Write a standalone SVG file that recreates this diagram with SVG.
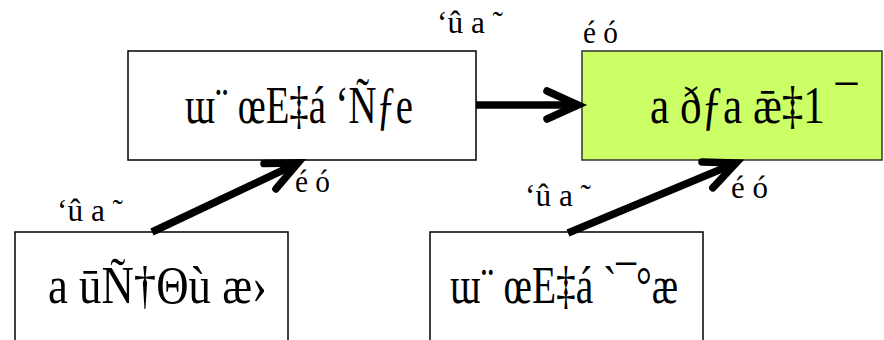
<svg xmlns="http://www.w3.org/2000/svg" width="884" height="340" viewBox="0 0 884 340">
<style>
.box{fill:#ffffff;stroke:#000000;stroke-width:1.5}
.hl{fill:#ccff66;stroke:#333333;stroke-width:1.5}
.nt{font-family:"Liberation Serif","DejaVu Serif",serif;font-size:52px;fill:#000000}
.lb{font-family:"Liberation Serif","DejaVu Serif",serif;font-size:32px;fill:#000000}
.cn{fill:none;stroke:#000000;stroke-width:7.5}
</style>
<defs>
<marker id="ah" markerUnits="userSpaceOnUse" markerWidth="60" markerHeight="60" viewBox="-40 -30 60 60" refX="0" refY="0" orient="auto" overflow="visible">
<path d="M-31,-14 L0,0 L-31,14" fill="none" stroke="#000000" stroke-width="7.5" stroke-linecap="round" stroke-linejoin="miter"/>
</marker>
</defs>
<g id="nodeA">
<rect class="box" x="128" y="51" width="348" height="109"/>
<text class="nt" x="185" y="123" textLength="228" lengthAdjust="spacingAndGlyphs">ɯ¨ œE‡á ‘Ñƒe</text>
</g>
<g id="nodeB">
<rect class="hl" x="582" y="51" width="300" height="109"/>
<text class="nt" transform="translate(650,123) scale(0.8,1)" x="0" y="0" textLength="259" lengthAdjust="spacingAndGlyphs">a ðƒa ǣ‡1 ¯</text>
</g>
<g id="nodeC">
<rect class="box" x="15" y="232" width="273" height="120"/>
<text class="nt" x="48" y="303" textLength="219" lengthAdjust="spacingAndGlyphs">a ūÑ†Θù æ›</text>
</g>
<g id="nodeD">
<rect class="box" x="430" y="232" width="273" height="120"/>
<text class="nt" x="450" y="303" textLength="228" lengthAdjust="spacingAndGlyphs">ɯ¨ œE‡á `¯°æ</text>
</g>
<g id="connectors">
<line class="cn" x1="476" y1="105" x2="578" y2="105" marker-end="url(#ah)"/>
<line class="cn" x1="152" y1="232" x2="298" y2="163" marker-end="url(#ah)"/>
<line class="cn" x1="568" y1="233" x2="736" y2="163" marker-end="url(#ah)"/>
</g>
<g id="labels">
<text class="lb" x="437" y="33" textLength="66" lengthAdjust="spacingAndGlyphs">‘û a ˜</text>
<text class="lb" x="583" y="43" textLength="35" lengthAdjust="spacingAndGlyphs">é ó</text>
<text class="lb" x="57" y="221" textLength="66" lengthAdjust="spacingAndGlyphs">‘û a ˜</text>
<text class="lb" x="295" y="192" textLength="35" lengthAdjust="spacingAndGlyphs">é ó</text>
<text class="lb" x="525" y="206" textLength="66" lengthAdjust="spacingAndGlyphs">‘û a ˜</text>
<text class="lb" x="731" y="198" textLength="37" lengthAdjust="spacingAndGlyphs">é ó</text>
</g>
</svg>
